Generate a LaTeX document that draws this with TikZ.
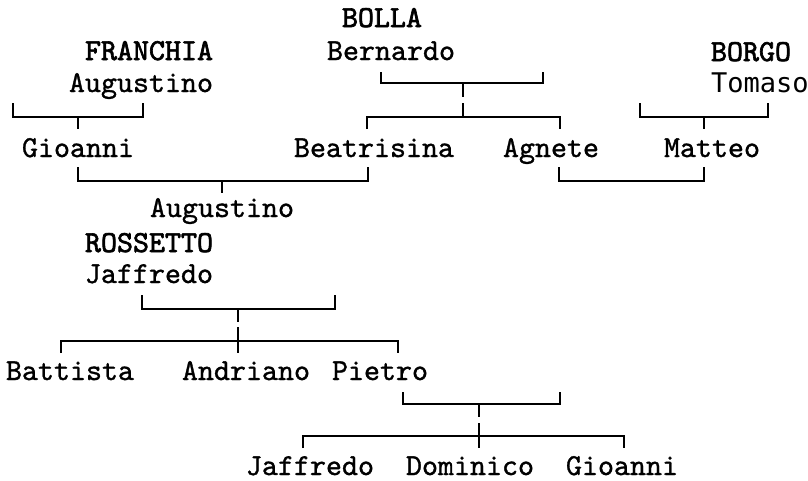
\documentclass[tikz,border=0pt]{standalone}
\usepackage{fontspec}
\newfontfamily\tmono[FakeBold=1.1]{lmmono10-regular.otf}
\newfontfamily\tmonobold[FakeBold=2.2]{lmmono10-regular.otf}
\newfontfamily\sansmono{DejaVu Sans Mono}
\begin{document}
\begin{tikzpicture}[x=0.75pt,y=-0.75pt,
  person/.style={anchor=base west,inner sep=0pt,outer sep=0pt,font=\fontsize{22.86}{26}\selectfont\tmono},
  surname/.style={person,font=\fontsize{22.86}{26}\selectfont\tmonobold},
  link/.style={line width=1.4pt,line cap=butt,line join=miter}]
\useasboundingbox (0,0) rectangle (808,480);

% ---------- texts ----------
\node[surname] (bolla)    at (342,27)  {BOLLA};
\node[surname] (franchia) at (85,60)   {FRANCHIA};
\node[person]  (bernardo) at (327,60)  {Bernardo};
\node[surname] (borgo)    at (711,61)  {BORGO};
\node[person]  (augF)     at (69,92)   {Augustino};
\node[person,font=\fontsize{20.3}{24}\selectfont\sansmono] (tomaso) at (711,92) {Tomaso};
\node[person]  (gioanni)  at (22,157)  {Gioanni};
\node[person]  (beatr)    at (294,157) {Beatrisina};
\node[person]  (agnete)   at (503,157) {Agnete};
\node[person]  (matteo)   at (664,157) {Matteo};
\node[person]  (augC)     at (150,217) {Augustino};
\node[surname] (rossetto) at (85,252)  {ROSSETTO};
\node[person]  (jaffR)    at (85,283)  {Jaffredo};
\node[person]  (battista) at (6,380)   {Battista};
\node[person]  (andriano) at (182,380) {Andriano};
\node[person]  (pietro)   at (332,380) {Pietro};
\node[person]  (jaffC)    at (246,475) {Jaffredo};
\node[person]  (dominico) at (406,475) {Dominico};
\node[person]  (gioC)     at (566,475) {Gioanni};

% ---------- connector points ----------
% FRANCHIA -> Gioanni
\coordinate (f1) at (13,103);  \coordinate (f2) at (143,103);
\coordinate (fm) at (78,117);  \coordinate (fc) at (78,129);
% BOLLA -> Beatrisina, Agnete
\coordinate (b1) at (381,72);  \coordinate (b2) at (543,72);
\coordinate (bm) at (463,83);  \coordinate (bt) at (463,97);
\coordinate (bu) at (463,103); \coordinate (bh) at (463,117);
\coordinate (bl) at (367,129); \coordinate (br) at (560,129);
% BORGO -> Matteo
\coordinate (g1) at (640,103); \coordinate (g2) at (768,103);
\coordinate (gm) at (704,117); \coordinate (gc) at (704,129);
% Gioanni + Beatrisina -> Augustino
\coordinate (m1) at (78,167);  \coordinate (m2) at (368,167);
\coordinate (mm) at (222,181); \coordinate (mc) at (222,193);
% Agnete + Matteo
\coordinate (a1) at (559,167); \coordinate (a2) at (704,167);
% ROSSETTO -> children
\coordinate (r1) at (142,295); \coordinate (r2) at (335,295);
\coordinate (rm) at (238,309); \coordinate (rt) at (238,322);
\coordinate (ru) at (238,327); \coordinate (rd) at (238,353);
\coordinate (rl) at (61,353);  \coordinate (rr) at (398,353);
\coordinate (rh) at (238,341);
% Pietro -> children
\coordinate (p1) at (403,392); \coordinate (p2) at (560,392);
\coordinate (pm) at (479,404); \coordinate (pt) at (479,417);
\coordinate (pu) at (479,423); \coordinate (pd) at (479,448);
\coordinate (pl) at (303,448); \coordinate (pr) at (624,448);
\coordinate (ph) at (479,436);

% ---------- connectors ----------
\draw[link] (f1) |- (fm) -| (f2);  \draw[link] (fm) -- (fc);
\draw[link] (b1) |- (bm) -| (b2);  \draw[link] (bm) -- (bt);
\draw[link] (bl) |- (bh) -| (br);  \draw[link] (bu) -- (bh);
\draw[link] (g1) |- (gm) -| (g2);  \draw[link] (gm) -- (gc);
\draw[link] (m1) |- (mm) -| (m2);  \draw[link] (mm) -- (mc);
\draw[link] (a1) |- (a2 |- mm) -- (a2);
\draw[link] (r1) |- (rm) -| (r2);  \draw[link] (rm) -- (rt);
\draw[link] (rl) |- (rh) -| (rr);  \draw[link] (ru) -- (rd);
\draw[link] (p1) |- (pm) -| (p2);  \draw[link] (pm) -- (pt);
\draw[link] (pl) |- (ph) -| (pr);  \draw[link] (pu) -- (pd);
\end{tikzpicture}
\end{document}
